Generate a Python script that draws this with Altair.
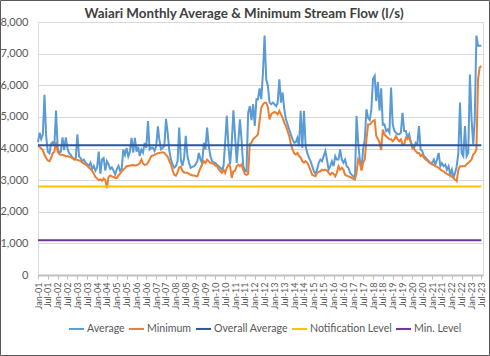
import altair as alt
import pandas as pd

# Monthly average flow (l/s), Jan 2001 .. Jul 2023
avg_flow = [
    4200, 4500, 4300, 4450, 5700, 4400, 3900, 3850, 4150, 4200, 4100, 5200,  # 2001
    4000, 3850, 3900, 4350, 3950, 4350, 4000, 3850, 3800, 3700, 3650, 3700,  # 2002
    4450, 3750, 3700, 3600, 3650, 3550, 3500, 3450, 3550, 3350, 3450, 3300,  # 2003
    3400, 3900, 3200, 3650, 3700, 3300, 3600, 3500, 3350, 3400, 3300, 3180,  # 2004
    3350, 3450, 3300, 3350, 3970, 3800, 4020, 3750, 3900, 4340, 3870, 4340,  # 2005
    3900, 4050, 3760, 3970, 3870, 4180, 4020, 4870, 3970, 4020, 4020, 3920,  # 2006
    4080, 4700, 4260, 3970, 4020, 4080, 4940, 4500, 3920, 3650, 3500, 3390,  # 2007
    3450, 3600, 4660, 3650, 3450, 3700, 4400, 3760, 3540, 3390, 3420, 3440,  # 2008
    3500, 3600, 3860, 3650, 3540, 4180, 3970, 4660, 4070, 3760, 3600, 3560,  # 2009
    3540, 3490, 3440, 3390, 3330, 3440, 4180, 5030, 4070, 3500, 4180, 5210,  # 2010
    4390, 3540, 4180, 4920, 4290, 3440, 3300, 3280, 5130, 5340, 4900, 5400,  # 2011
    4710, 5560, 5560, 5900, 5560, 6400, 7570, 6190, 5980, 5450, 5400, 5450,  # 2012
    5400, 5340, 5450, 6190, 5450, 5770, 5240, 4920, 4760, 4600, 4440, 4290,  # 2013
    4180, 4200, 4340, 4070, 5190, 4020, 5190, 4070, 3860, 3710, 3600, 3440,  # 2014
    3280, 3200, 3330, 3550, 3650, 3600, 3760, 3920, 3650, 3330, 3440, 3600,  # 2015
    3440, 3760, 3650, 3650, 3970, 3650, 3550, 3650, 3440, 3390, 3230, 3170,  # 2016
    3120, 3070, 5030, 4180, 3650, 3330, 3970, 4290, 5240, 4970, 4900, 5240,  # 2017
    6200, 6300, 5500, 6100, 5200, 5900, 4750, 4760, 4550, 4600, 4500, 5930,  # 2018
    4760, 4550, 4500, 4450, 4450, 4500, 5130, 4550, 4550, 4340, 4450, 4230,  # 2019
    4070, 4020, 4180, 4130, 4710, 3970, 3920, 3760, 3710, 3650, 3600, 3540,  # 2020
    3540, 3650, 3490, 3650, 3860, 3440, 3540, 3440, 3490, 3330, 3440, 3170,  # 2021
    3330, 3070, 3230, 3440, 3860, 5450, 3860, 3760, 4710, 3760, 3860, 6340,  # 2022
    4920, 4130, 4920, 7570, 7250, 7250, 7250,                                # 2023
]

# Monthly minimum flow (l/s)
min_flow = [
    4080, 4050, 4000, 3950, 3800, 3700, 3620, 3600, 3700, 3850, 3900, 4200,  # 2001
    3900, 3820, 3800, 3800, 3780, 3750, 3760, 3740, 3720, 3700, 3680, 3650,  # 2002
    3640, 3620, 3600, 3560, 3520, 3500, 3450, 3400, 3350, 3300, 3200, 3100,  # 2003
    3050, 3000, 3020, 2980, 3050, 3000, 2750, 3100, 3150, 3120, 3100, 3070,  # 2004
    3070, 3150, 3200, 3280, 3330, 3380, 3440, 3450, 3460, 3470, 3480, 3460,  # 2005
    3470, 3500, 3530, 3650, 3530, 3480, 3490, 3550, 3650, 3760, 3780, 3800,  # 2006
    3830, 3850, 3860, 3870, 3880, 3860, 3800, 3740, 3600, 3500, 3300, 3170,  # 2007
    3140, 3250, 3400, 3420, 3300, 3240, 3230, 3230, 3200, 3170, 3150, 3150,  # 2008
    3130, 3120, 3250, 3390, 3500, 3600, 3540, 3650, 3600, 3540, 3530, 3520,  # 2009
    3460, 3440, 3350, 3280, 3230, 3330, 3230, 3390, 3490, 3440, 3070, 3280,  # 2010
    3300, 3440, 3490, 3440, 3490, 3330, 3200, 3170, 3200, 4150, 4180, 4300,  # 2011
    4340, 4390, 4450, 4900, 5290, 5400, 5450, 5450, 5300, 4920, 5080, 5130,  # 2012
    5160, 5130, 5080, 5190, 5080, 4970, 4810, 4710, 4550, 4390, 4130, 3970,  # 2013
    3850, 3810, 3860, 3760, 3710, 3600, 3550, 3600, 3550, 3440, 3300, 3170,  # 2014
    3140, 3120, 3230, 3260, 3280, 3330, 3310, 3330, 3300, 3230, 3170, 3230,  # 2015
    3200, 3120, 3230, 3440, 3330, 3390, 3330, 3170, 3140, 3120, 3100, 3070,  # 2016
    3040, 3020, 3230, 3650, 3550, 3300, 3550, 3650, 4290, 4760, 4760, 4810,  # 2017
    4870, 4900, 4400, 4300, 4200, 3950, 4600, 4440, 4390, 4340, 4290, 4290,  # 2018
    4230, 4290, 4390, 4290, 4230, 4290, 4130, 4130, 4340, 4300, 4340, 4200,  # 2019
    4000, 3980, 3920, 3860, 3860, 3760, 3810, 3710, 3650, 3620, 3570, 3520,  # 2020
    3500, 3480, 3440, 3420, 3390, 3340, 3300, 3280, 3230, 3200, 3170, 3150,  # 2021
    3120, 3050, 3020, 2970, 3330, 3440, 3440, 3440, 3440, 3500, 3540, 3600,  # 2022
    3650, 3810, 3860, 3970, 6190, 6560, 6610,                                # 2023
]

overall_average = 4100
notification_level = 2800
min_level = 1100

title_text = "Waiari Monthly Average & Minimum Stream Flow (l/s)"
series_names = ["Average", "Minimum", "Overall Average", "Notification Level", "Min. Level"]
series_colors = ["#5B9BD5", "#ED7D31", "#2F5597", "#FFC000", "#7030A0"]
y_ticks = [0, 1000, 2000, 3000, 4000, 5000, 6000, 7000, 8000]

months = pd.date_range("2001-01-01", periods=len(avg_flow), freq="MS")

df_avg = pd.DataFrame({"date": months, "value": avg_flow, "series": "Average"})
df_min = pd.DataFrame({"date": months, "value": min_flow, "series": "Minimum"})
ends = [months[0], months[-1]]
df_lvl = pd.concat([
    pd.DataFrame({"date": ends, "value": [overall_average] * 2, "series": "Overall Average"}),
    pd.DataFrame({"date": ends, "value": [notification_level] * 2, "series": "Notification Level"}),
    pd.DataFrame({"date": ends, "value": [min_level] * 2, "series": "Min. Level"}),
])

tick_dates = [alt.DateTime(year=y, month=m, date=1)
              for y in range(2001, 2024) for m in (1, 7)]

FONT = "Lato"
GREY = "#595959"
W, H = 445, 253

x_enc = alt.X(
    "date:T",
    scale=alt.Scale(domain=[alt.DateTime(year=2001, month=1, date=1),
                            alt.DateTime(year=2023, month=8, date=1)]),
    axis=alt.Axis(
        values=tick_dates, format="%b-%y", labelAngle=270, labelAlign="right",
        labelBaseline="middle", labelFontSize=9, labelColor=GREY, labelFont=FONT,
        labelPadding=3, tickSize=4, tickColor="#BFBFBF", domainColor="#BFBFBF",
        domainWidth=2, grid=False, title=None, labelOverlap=False,
    ),
)
y_enc = alt.Y(
    "value:Q",
    scale=alt.Scale(domain=[0, 8000], nice=False),
    axis=alt.Axis(
        values=y_ticks, format=",.0f", labelFontSize=11, labelColor=GREY, labelFont=FONT,
        labelPadding=10, tickSize=0, domain=False, gridColor="#D9D9D9",
        gridWidth=1, title=None,
    ),
)
color_enc = alt.Color(
    "series:N",
    scale=alt.Scale(domain=series_names, range=series_colors),
    legend=alt.Legend(
        orient="none", legendX=30, legendY=298, direction="horizontal",
        title=None, symbolType="stroke", symbolStrokeWidth=2, symbolSize=225,
        labelFontSize=10.6, labelColor=GREY, labelFont=FONT, columnPadding=0,
        labelOffset=2, padding=0,
    ),
)

border = alt.Chart(pd.DataFrame({"a": [0]})).mark_rect(
    filled=False, stroke="#595959", strokeWidth=1, clip=False
).encode(
    x=alt.value(-37.5), x2=alt.value(451.5), y=alt.value(-21.5), y2=alt.value(333.5)
)

title_mark = alt.Chart(pd.DataFrame({"t": [title_text]})).mark_text(
    font=FONT, fontSize=13.4, fontWeight="bold", color="#404040",
    align="center", baseline="alphabetic", clip=False,
).encode(text="t:N", x=alt.value(206), y=alt.value(-4))

line_avg = alt.Chart(df_avg).mark_line(strokeWidth=2).encode(x=x_enc, y=y_enc, color=color_enc)
line_min = alt.Chart(df_min).mark_line(strokeWidth=2).encode(x=x_enc, y=y_enc, color=color_enc)
line_lvl = alt.Chart(df_lvl).mark_line(strokeWidth=2).encode(
    x=x_enc, y=y_enc, color=color_enc, detail="series:N")

chart = alt.layer(border, title_mark, line_avg, line_min, line_lvl).properties(
    width=W, height=H,
    autosize=alt.AutoSizeParams(type="none"),
    padding={"left": 38, "top": 22, "right": 7, "bottom": 81},
).configure_view(stroke="#404040", strokeWidth=1).configure(background="white")

chart.save("out.html", embed_options={"renderer": "svg", "actions": False})
